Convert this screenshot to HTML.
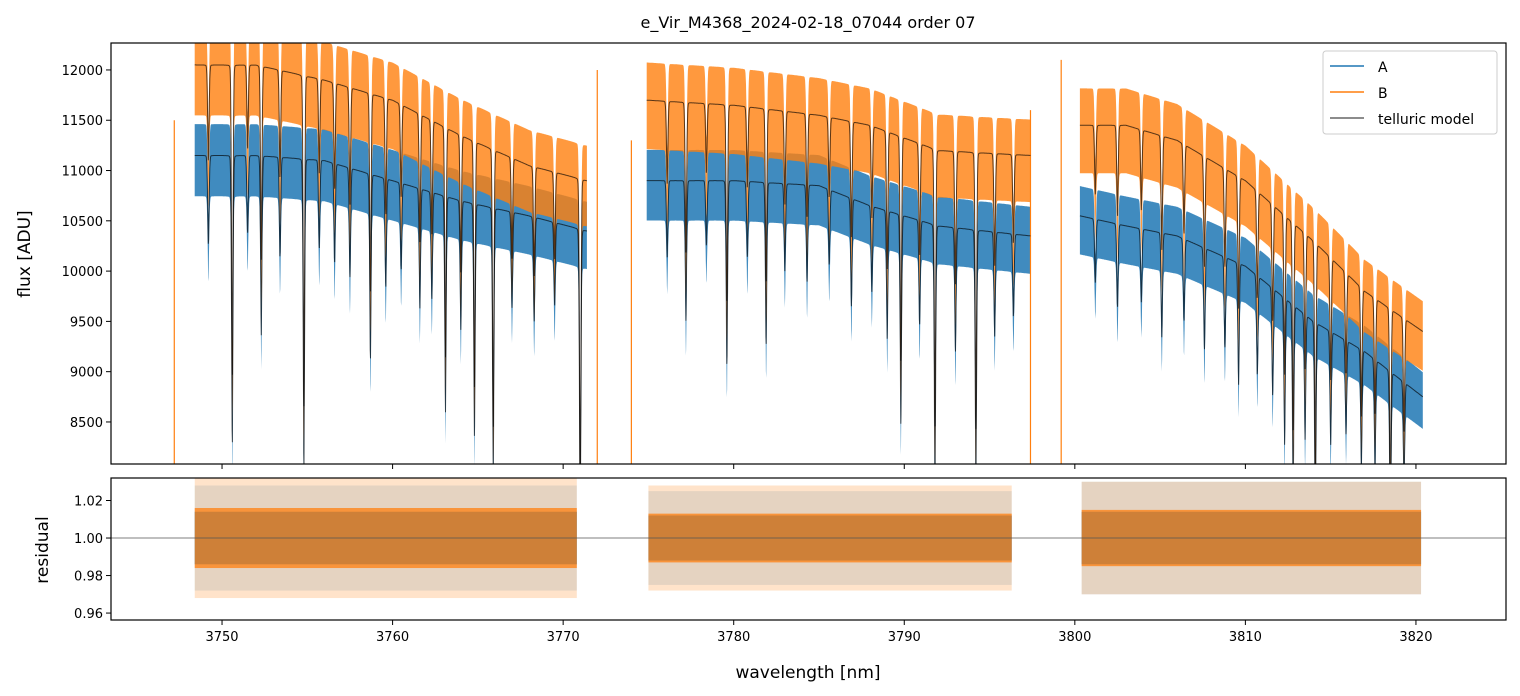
<!DOCTYPE html>
<html><head><meta charset="utf-8">
<style>
body{margin:0;background:#fff;}
svg{display:block;font-family:"DejaVu Sans","Liberation Sans",sans-serif;}
</style></head>
<body>
<svg id="chart" width="1520" height="696">
<rect width="1520" height="696" fill="#fff"/>
<text x="808" y="28" font-size="16" text-anchor="middle">e_Vir_M4368_2024-02-18_07044  order 07</text>
<defs>
<clipPath id="ct"><rect x="111" y="43" width="1395" height="421"/></clipPath>
<clipPath id="cb"><rect x="111" y="478" width="1395" height="142"/></clipPath>
</defs>
<g id="gtop" clip-path="url(#ct)"></g>
<g id="gbot" clip-path="url(#cb)"></g>
<rect x="111" y="43" width="1395" height="421" fill="none" stroke="#000" stroke-width="1.2"/>
<rect x="111" y="478" width="1395" height="142" fill="none" stroke="#000" stroke-width="1.2"/>
<g id="gaxes"></g>
<text x="808" y="678" font-size="17" text-anchor="middle">wavelength [nm]</text>
<text transform="translate(30,254) rotate(-90)" font-size="17" text-anchor="middle">flux [ADU]</text>
<text transform="translate(48,550) rotate(-90)" font-size="17" text-anchor="middle">residual</text>
<g id="legend">
<rect x="1323" y="51" width="174" height="83" rx="3" fill="#fff" fill-opacity="0.85" stroke="#ccc"/>
<line x1="1330" y1="66" x2="1364" y2="66" stroke="#1f77b4" stroke-width="1.5"/>
<text x="1378" y="72" font-size="14">A</text>
<line x1="1330" y1="92" x2="1364" y2="92" stroke="#ff7f0e" stroke-width="1.5"/>
<text x="1378" y="98" font-size="14">B</text>
<line x1="1330" y1="118" x2="1364" y2="118" stroke="#666" stroke-width="1.5"/>
<text x="1378" y="124" font-size="14">telluric model</text>
</g>
</svg>
<script>
// ---- data ----
const segments = [[3748.4,3771.4],[3774.9,3797.4],[3800.3,3820.4]];
const residSegments = [[3748.4,3770.8],[3775.0,3796.3],[3800.4,3820.3]];
const contX = [3748.4,3752,3756,3760,3764,3768,3771.4, 3774.9,3780,3785,3788,3792,3797.4, 3800.3,3803,3806,3810,3814,3817,3820.4];
const contB = [12050,12050,11900,11700,11350,11050,10900, 11700,11650,11550,11450,11200,11150, 11450,11450,11300,10900,10300,9800,9400];
const contA = [11150,11150,11100,10900,10700,10550,10400, 10900,10900,10850,10650,10450,10350, 10550,10450,10350,10050,9500,9200,8750];
const lineC = [3749.2,3750.6,3751.5,3752.3,3753.4,3754.8,3755.7,3756.6,3757.5,3758.7,3759.6,3760.5,3761.6,3762.3,3763.1,3764.0,3764.8,3765.9,3767.0,3768.3,3769.5,3771.0,
 3776.1,3777.2,3778.4,3779.6,3780.8,3781.9,3783.0,3784.3,3785.6,3786.9,3788.1,3789.0,3789.8,3790.9,3791.8,3793.0,3794.2,3795.3,3796.4,
 3801.2,3802.5,3803.9,3805.1,3806.4,3807.6,3808.8,3809.6,3810.7,3811.6,3812.3,3812.8,3813.5,3814.1,3815.0,3815.9,3816.8,3817.6,3818.5,3819.3];
const lineD = [0.08,0.26,0.07,0.16,0.09,0.28,0.08,0.09,0.1,0.17,0.1,0.08,0.11,0.1,0.2,0.12,0.22,0.25,0.09,0.1,0.08,0.3,
 0.07,0.13,0.06,0.17,0.07,0.15,0.08,0.09,0.07,0.1,0.08,0.12,0.2,0.1,0.25,0.12,0.25,0.1,0.08,
 0.06,0.08,0.07,0.1,0.08,0.1,0.09,0.12,0.1,0.11,0.15,0.2,0.13,0.22,0.12,0.1,0.13,0.12,0.2,0.12];
const noiseA = 0.028, noiseB = 0.032;
const residA = [0.014,0.012,0.014], residB = [0.016,0.013,0.015];
const residSpikeA = [0.028,0.025,0.03], residSpikeB = [0.032,0.028,0.03];
const spikeX = [3747.2,3772.0,3774.0,3797.4,3799.2];
const spikeTop = [11500,12000,11300,11600,12100];
const xTicks = [3750,3760,3770,3780,3790,3800,3810,3820];
const yTicks = [8500,9000,9500,10000,10500,11000,11500,12000];
const rTicks = [0.96,0.98,1.00,1.02];
// ---- scales ----
const X=w=>111+(w-3743.49)/(3825.28-3743.49)*1395;
const Y=v=>43+(12268-v)/(12268-8082)*421;
const R=v=>478+(1.032-v)/(1.032-0.9563)*142;
const NS="http://www.w3.org/2000/svg";
function mk(tag,attrs,parent){const e=document.createElementNS(NS,tag);for(const k in attrs)e.setAttribute(k,attrs[k]);parent.appendChild(e);return e;}
function interp(xs,ys,x){if(x<=xs[0])return ys[0];for(let i=1;i<xs.length;i++){if(x<=xs[i]){const t=(x-xs[i-1])/(xs[i]-xs[i-1]);return ys[i-1]+t*(ys[i]-ys[i-1]);}}return ys[ys.length-1];}
function trans(w){let f=1;for(let i=0;i<lineC.length;i++){const g=(w-lineC[i])/0.045;const l=(w-lineC[i])/0.02;const p=0.8*Math.exp(-0.5*g*g)+0.2/(1+l*l);f*=1-lineD[i]*p;}return f;}
const gTop=document.getElementById('gtop'),gBot=document.getElementById('gbot'),gAxes=document.getElementById('gaxes');
function band(cont,amp,color,name,op){
  segments.forEach((s,si)=>{
    let up=[],lo=[];
    for(let w=s[0];w<=s[1];w+=0.015){const m=interp(contX,cont,w)*trans(w);up.push(X(w).toFixed(1)+','+Y(m*(1+amp)).toFixed(1));lo.push(X(w).toFixed(1)+','+Y(m*(1-amp*1.3)).toFixed(1));}
    const p=mk('polygon',{points:up.concat(lo.reverse()).join(' '),fill:color,'fill-opacity':op},gTop);
    
    
  });
}
function model(cont,name){
  segments.forEach((s,si)=>{
    let pts=[];
    for(let w=s[0];w<=s[1];w+=0.015){pts.push(X(w).toFixed(1)+','+Y(interp(contX,cont,w)*trans(w)).toFixed(1));}
    const p=mk('polyline',{points:pts.join(' '),fill:'none',stroke:'#000','stroke-opacity':0.65,'stroke-width':1},gTop);
    
    
  });
}
band(contA,noiseA,'#1f77b4','spectrum-a',0.85);
band(contB,noiseB,'#ff7f0e','spectrum-b',0.8);
spikeX.forEach((x,i)=>{const l=mk('line',{x1:X(x),x2:X(x),y1:Y(8082),y2:Y(spikeTop[i]),stroke:'#ff7f0e','stroke-width':1.2},gTop);
  
  });
model(contA,'telluric-model-a');
model(contB,'telluric-model-b');
function rband(s,amp,color,op,name){
  const r=mk('rect',{x:X(s[0]),width:X(s[1])-X(s[0]),y:R(1+amp),height:R(1-amp)-R(1+amp),fill:color,'fill-opacity':op},gBot);
  
  
}
residSegments.forEach((s,si)=>{
  rband(s,residSpikeA[si],'#1f77b4',0.15,'residual-a-spread-'+(si+1));
  rband(s,residSpikeB[si],'#ff7f0e',0.22,'residual-b-spread-'+(si+1));
  rband(s,residA[si],'#1f77b4',0.85,'residual-a-segment-'+(si+1));
  rband(s,residB[si],'#ff7f0e',0.75,'residual-b-segment-'+(si+1));
});
const ref=mk('line',{x1:111,x2:1506,y1:R(1),y2:R(1),stroke:'#555','stroke-width':0.8},gBot);


xTicks.forEach(t=>{
  mk('line',{x1:X(t),x2:X(t),y1:464,y2:469,stroke:'#000'},gAxes);
  mk('line',{x1:X(t),x2:X(t),y1:620,y2:625,stroke:'#000'},gAxes);
  const tx=mk('text',{x:X(t),y:641,'font-size':13,'text-anchor':'middle'},gAxes);tx.textContent=t;
  
  
});
yTicks.forEach(t=>{
  mk('line',{x1:106,x2:111,y1:Y(t),y2:Y(t),stroke:'#000'},gAxes);
  const tx=mk('text',{x:103,y:Y(t)+5,'font-size':13,'text-anchor':'end'},gAxes);tx.textContent=t;
  
  
});
rTicks.forEach(t=>{
  mk('line',{x1:106,x2:111,y1:R(t),y2:R(t),stroke:'#000'},gAxes);
  const tx=mk('text',{x:103,y:R(t)+5,'font-size':13,'text-anchor':'end'},gAxes);tx.textContent=t.toFixed(2);
  
  
});
</script>
</body></html>
